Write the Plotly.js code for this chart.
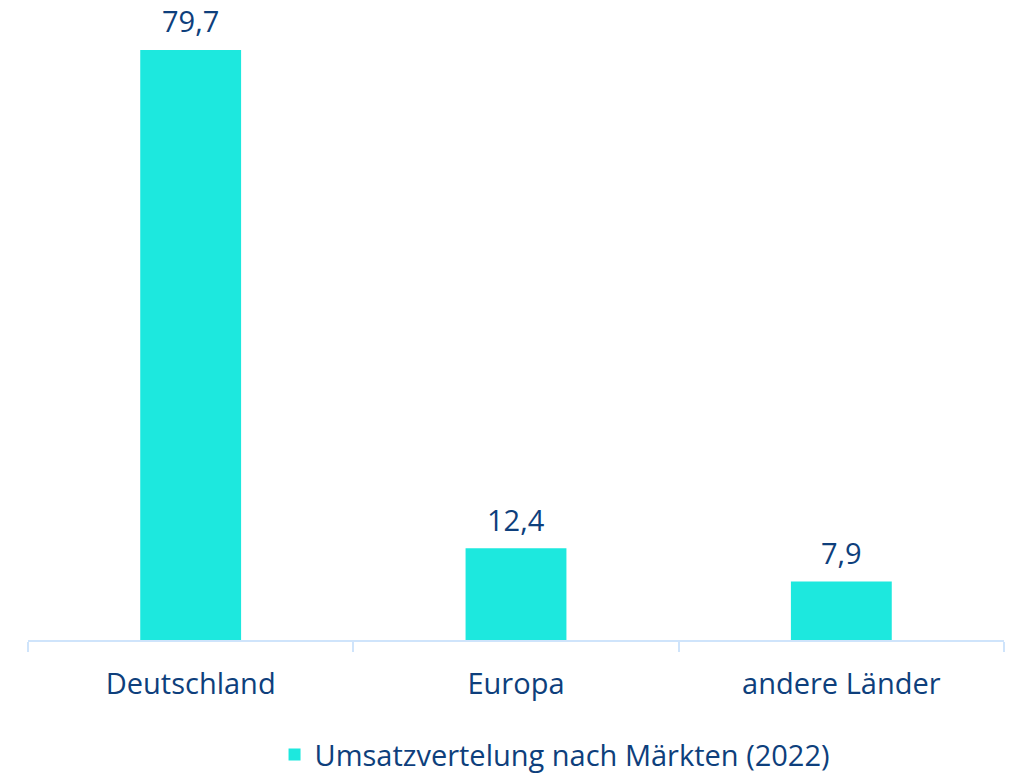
<!DOCTYPE html>
<html>
<head>
<meta charset="utf-8">
<script src="https://cdn.plot.ly/plotly-3.0.1.min.js"></script>
<style>html,body{margin:0;padding:0;background:#fff;}#chart{width:1012px;height:775px;}</style>
</head>
<body>
<div id="chart"></div>
<script>
const categories = ["Deutschland", "Europa", "andere Länder"];
const values = [79.7, 12.4, 7.9];
const seriesName = "Umsatzvertelung nach Märkten (2022)";

const textColor = "#0e3f7c";
const barColor = "#1de8de";
const axisColor = "#cfe4fb";
const fontFamily = "'Open Sans', 'Noto Sans', sans-serif";
const fontSize = 29;

const trace = {
  type: "bar",
  x: categories,
  y: values,
  name: seriesName,
  marker: {color: barColor},
  hoverinfo: "none"
};

const fmt = v => v.toFixed(1).replace(".", ",");
const annotations = categories.map((c, i) => ({
  x: c,
  y: values[i],
  xref: "x",
  yref: "y",
  text: fmt(values[i]),
  showarrow: false,
  yanchor: "middle",
  xanchor: "center",
  yshift: 29,
  font: {size: fontSize, color: textColor, family: fontFamily}
}));

const layout = {
  width: 1012,
  height: 775,
  separators: ",.",
  margin: {l: 28, r: 8, t: 10, b: 135, autoexpand: false},
  paper_bgcolor: "#ffffff",
  plot_bgcolor: "#ffffff",
  bargap: 0.69,
  showlegend: true,
  font: {family: fontFamily, color: textColor, size: fontSize},
  annotations: annotations,
  xaxis: {
    showline: true,
    linecolor: axisColor,
    linewidth: 2,
    ticks: "outside",
    tickson: "boundaries",
    ticklen: 10,
    tickwidth: 2,
    tickcolor: axisColor,
    ticklabelstandoff: 17,
    tickfont: {size: fontSize, color: textColor, family: fontFamily},
    showgrid: false,
    zeroline: false
  },
  yaxis: {
    range: [0, 85.1],
    visible: false,
    showgrid: false,
    zeroline: false
  },
  legend: {
    orientation: "h",
    x: 0.54,
    xanchor: "center",
    y: -0.182,
    yanchor: "middle",
    font: {size: fontSize, color: textColor, family: fontFamily},
    itemwidth: 30
  }
};

Plotly.newPlot("chart", [trace], layout, {displayModeBar: false, staticPlot: true});
</script>
</body>
</html>
